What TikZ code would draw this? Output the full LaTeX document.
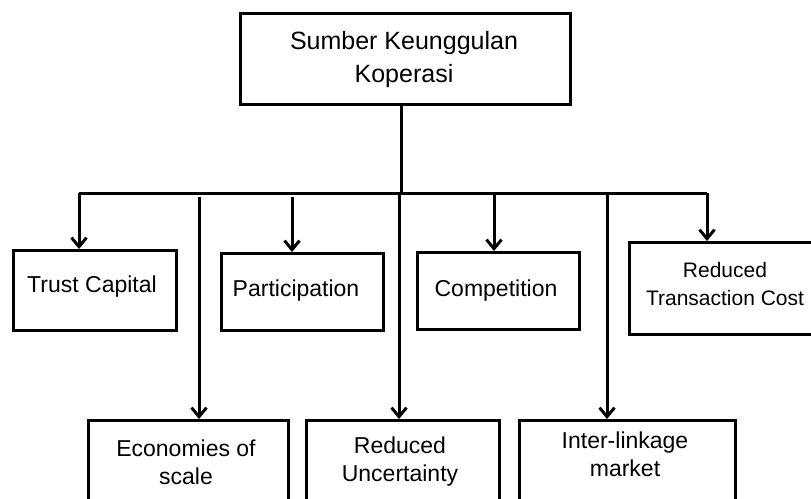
\documentclass[tikz,border=0pt]{standalone}
\usepackage{fontspec}
\setmainfont{Liberation Sans}
\usetikzlibrary{arrows.meta}
\begin{document}
\begin{tikzpicture}[x=1pt,y=-1pt,
  box/.style={draw, line width=3pt, inner sep=0pt, anchor=north west},
  lbl/.style={inner sep=0pt, align=center, font=\fontsize{23}{28}\selectfont},
  conn/.style={line width=3pt},
  arr/.style={line width=3pt, -{Straight Barb[length=9pt,width=15pt]}}]
\useasboundingbox (0,0) rectangle (811,498);
\clip (0,0) rectangle (811,498);
% boxes
\node[box, minimum width=330pt, minimum height=91pt] (top) at (239,12) {};
\node[box, minimum width=163pt, minimum height=80pt] (tc) at (12,249) {};
\node[box, minimum width=162pt, minimum height=77pt] (pa) at (220,252) {};
\node[box, minimum width=162pt, minimum height=77pt] (co) at (416,251) {};
\node[box, minimum width=200pt, minimum height=92pt] (rt) at (628,241) {};
\node[box, minimum width=200pt, minimum height=84pt] (ec) at (87,419) {};
\node[box, minimum width=193pt, minimum height=84pt] (ru) at (305,419) {};
\node[box, minimum width=216pt, minimum height=84pt] (il) at (518,419) {};
% labels
\node[lbl, font=\fontsize{25}{33}\selectfont] (topt) at (404,60) {Sumber Keunggulan\\Koperasi};
\node[lbl] (tct) at (92,287) {Trust Capital};
\node[lbl] (pat) at (296,291) {Participation};
\node[lbl] (cot) at (496,291) {Competition};
\node[lbl, font=\fontsize{21}{28}\selectfont] (rtt) at (725,284) {Reduced\\Transaction Cost};
\node[lbl] (ect) at (186,462) {Economies of\\scale};
\node[lbl] (rut) at (400,462) {Reduced\\Uncertainty};
\node[lbl] (ilt) at (625,454) {Inter-linkage\\market};
% bus
\coordinate (s0) at (401,103);
\coordinate (bs) at (401,193);
\coordinate (bl) at (79,193);
\coordinate (br) at (707,193);
\coordinate (b4) at (399,193);
\coordinate (b5) at (494,193);
\coordinate (b6) at (607,193);
\coordinate (e0) at (199,197);
\coordinate (p0) at (292,197);
\draw[conn] (s0) -- (bs);
\draw[conn] (bl) -- (br);
% arrows
\draw[arr] (bl) -- (bl |- tc.north);
\draw[arr] (e0) -- (e0 |- ec.north);
\draw[arr] (p0) -- (p0 |- pa.north);
\draw[arr] (b4) -- (b4 |- ru.north);
\draw[arr] (b5) -- (b5 |- co.north);
\draw[arr] (b6) -- (b6 |- il.north);
\draw[arr] (br) -- (br |- rt.north);
\end{tikzpicture}
\end{document}
